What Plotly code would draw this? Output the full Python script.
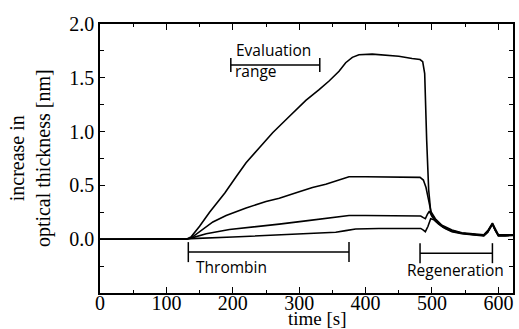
import plotly.graph_objects as go

# ---- data ----
time_a = [0, 130, 137, 150, 165, 188, 205, 220, 240, 260, 280, 295, 310, 330, 345, 360, 370, 380, 390, 410,
          430, 450, 470, 482, 486, 489, 492, 495, 498, 505, 515, 530, 545, 560, 578, 584, 591, 595, 600, 610, 622]
thick_a = [0, 0, 0.02, 0.12, 0.25, 0.43, 0.58, 0.71, 0.85, 0.99, 1.11, 1.20, 1.29, 1.39, 1.47, 1.56, 1.64, 1.69, 1.715, 1.72,
           1.71, 1.70, 1.68, 1.67, 1.65, 1.54, 0.92, 0.46, 0.26, 0.19, 0.13, 0.085, 0.06, 0.05, 0.04, 0.08, 0.15, 0.10, 0.04, 0.04, 0.04]

time_b = [0, 130, 137, 150, 170, 190, 220, 250, 270, 300, 320, 340, 360, 375, 400, 430, 460, 482, 487, 491,
          495, 499, 505, 515, 530, 545, 560, 578, 584, 591, 595, 600, 610, 622]
thick_b = [0, 0, 0.01, 0.07, 0.16, 0.22, 0.29, 0.35, 0.38, 0.44, 0.48, 0.51, 0.55, 0.58, 0.58, 0.58, 0.58, 0.575, 0.55, 0.48,
           0.36, 0.24, 0.18, 0.12, 0.08, 0.055, 0.045, 0.035, 0.07, 0.14, 0.09, 0.035, 0.035, 0.04]

time_c = [0, 130, 137, 160, 195, 230, 270, 310, 350, 375, 400, 450, 483, 487, 490, 493, 496, 500, 507, 517,
          530, 545, 560, 578, 584, 591, 595, 600, 610, 622]
thick_c = [0, 0, 0.01, 0.05, 0.09, 0.11, 0.14, 0.17, 0.20, 0.22, 0.22, 0.22, 0.215, 0.20, 0.19, 0.23, 0.26, 0.21, 0.16, 0.11,
           0.075, 0.055, 0.045, 0.035, 0.07, 0.145, 0.09, 0.035, 0.035, 0.04]

time_d = [0, 130, 137, 200, 270, 330, 355, 370, 385, 420, 483, 487, 490, 494, 498, 503, 510, 520, 530, 545,
          560, 578, 584, 591, 595, 600, 610, 622]
thick_d = [0, 0, 0.005, 0.02, 0.04, 0.055, 0.065, 0.08, 0.095, 0.10, 0.10, 0.085, 0.07, 0.12, 0.19, 0.18, 0.14, 0.10, 0.07, 0.05,
           0.04, 0.03, 0.065, 0.14, 0.085, 0.03, 0.03, 0.035]

x_ticks = [0, 100, 200, 300, 400, 500, 600]
x_tick_text = ["0", "100", "200", "300", "400", "500", "600"]
y_ticks = [0.0, 0.5, 1.0, 1.5, 2.0]
y_tick_text = ["0.0", "0.5", "1.0", "1.5", "2.0"]

eval_span = [197, 331]
eval_level = 1.62
thrombin_span = [133, 375]
thrombin_level = -0.12
regen_span = [482, 591]
regen_level = -0.13

# ---- figure ----
fig = go.Figure()
for t, v in [(time_a, thick_a), (time_b, thick_b), (time_c, thick_c), (time_d, thick_d)]:
    fig.add_trace(go.Scatter(x=t, y=v, mode="lines", line=dict(color="black", width=1.6),
                             showlegend=False, hoverinfo="skip"))

def bracket(span, level, cap):
    fig.add_shape(type="line", x0=span[0], x1=span[1], y0=level, y1=level,
                  xref="x", yref="y", line=dict(color="black", width=1.5))
    for xx in span:
        fig.add_shape(type="line", x0=xx, x1=xx, y0=level - cap, y1=level + cap,
                      xref="x", yref="y", line=dict(color="black", width=1.5))

bracket(eval_span, eval_level, 0.065)
bracket(thrombin_span, thrombin_level, 0.093)
bracket(regen_span, regen_level, 0.093)

SERIF = "Liberation Serif"

def sans():
    return dict(family="Open Sans", size=15.5, color="black")

def serif(size=20):
    return dict(family=SERIF, size=size, color="black")

def label(text, x, y):
    fig.add_annotation(text=text, x=x, y=y, xref="x", yref="y", showarrow=False,
                       xanchor="left", yanchor="middle", font=sans())

label("Evaluation", 202, 1.755)
label("range", 200, 1.565)
label("Thrombin", 142, -0.26)
label("Regeneration", 460, -0.29)

fig.add_annotation(text="time [s]", x=328, y=-0.094, xref="x", yref="paper", showarrow=False,
                   xanchor="center", yanchor="middle", font=serif(19))
fig.add_annotation(text="increase in<br>optical thickness [nm]", x=-0.168, y=0.5, xref="paper", yref="paper",
                   showarrow=False, textangle=-90, xanchor="center", yanchor="middle", font=serif())

fig.update_layout(
    width=519, height=329, margin=dict(l=100, r=4, t=24, b=36),
    font=serif(),
    plot_bgcolor="white", paper_bgcolor="white",
    xaxis=dict(range=[0, 622], tickmode="array", tickvals=x_ticks, ticktext=x_tick_text,
               showline=True, linecolor="black", linewidth=1.5, mirror="ticks",
               ticks="inside", ticklen=6, tickcolor="black", tickwidth=1.2,
               showgrid=False, zeroline=False,
               tickfont=serif(), ticklabelstandoff=-9,
               minor=dict(dtick=50, tick0=0, ticks="inside", ticklen=3.5, tickcolor="black", tickwidth=1.2)),
    yaxis=dict(range=[-0.5, 2.0], tickmode="array", tickvals=y_ticks, ticktext=y_tick_text,
               showline=True, linecolor="black", linewidth=1.5, mirror="ticks",
               ticks="inside", ticklen=5, tickcolor="black", tickwidth=1.2,
               showgrid=False, zeroline=False,
               tickfont=serif(),
               minor=dict(dtick=0.25, tick0=0, ticks="inside", ticklen=4, tickcolor="black", tickwidth=1.2)),
)

fig.write_html("out.html")
